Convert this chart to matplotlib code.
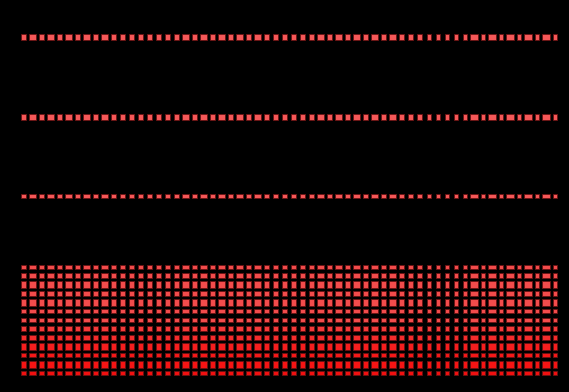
import matplotlib
matplotlib.use("Agg")
import matplotlib.pyplot as plt
import numpy as np

# column index -> narrow / wide cell
n_cols = 60
wide_cols = [1, 3, 5, 7, 9,
             18, 20, 22, 24, 26,
             33, 35, 37, 39, 41,
             50, 52, 54, 56, 58]

# rows (grid position), cell height in px, colour
row_pos = [0, 9, 18, 26, 27, 28, 29, 30, 31, 32, 33, 34, 35, 36, 37, 38]
row_h_px = [6, 6, 4.5, 4.5, 4.5, 7, 4.5, 7, 4.5, 4.5, 4.5, 4.5, 7, 4.5, 7, 4.5]
row_colors = ['#f55858', '#f55858', '#f55858',
              '#f24c4c', '#f24c4c', '#f24c4c', '#f24c4c', '#f24c4c', '#f24c4c', '#f24c4c',
              '#f33a3a', '#f42c2c', '#f51e1e', '#f51818', '#f41414', '#f01010']

W, H = 569, 392
col_px = 9.01   # px per column
row_px = 8.84   # px per row

fig = plt.figure(figsize=(W / 100, H / 100), dpi=100, facecolor='black')
ax = fig.add_axes([0, 0, 1, 1])
ax.set_facecolor('black')

x0 = -23.3 / col_px
ax.set_xlim(x0, x0 + W / col_px)
y0 = -37 / row_px
ax.set_ylim(y0 + H / row_px, y0)
ax.axis('off')

cols = np.arange(n_cols)
widths = np.array([7.5 if c in wide_cols else 4.5 for c in cols]) / col_px

for r, hpx, col in zip(row_pos, row_h_px, row_colors):
    h = hpx / row_px
    ax.bar(cols, h, width=widths, bottom=r - h / 2, color=col,
           edgecolor='#6a1212', linewidth=0.6)

fig.savefig('out.png', dpi=100, facecolor='black')
